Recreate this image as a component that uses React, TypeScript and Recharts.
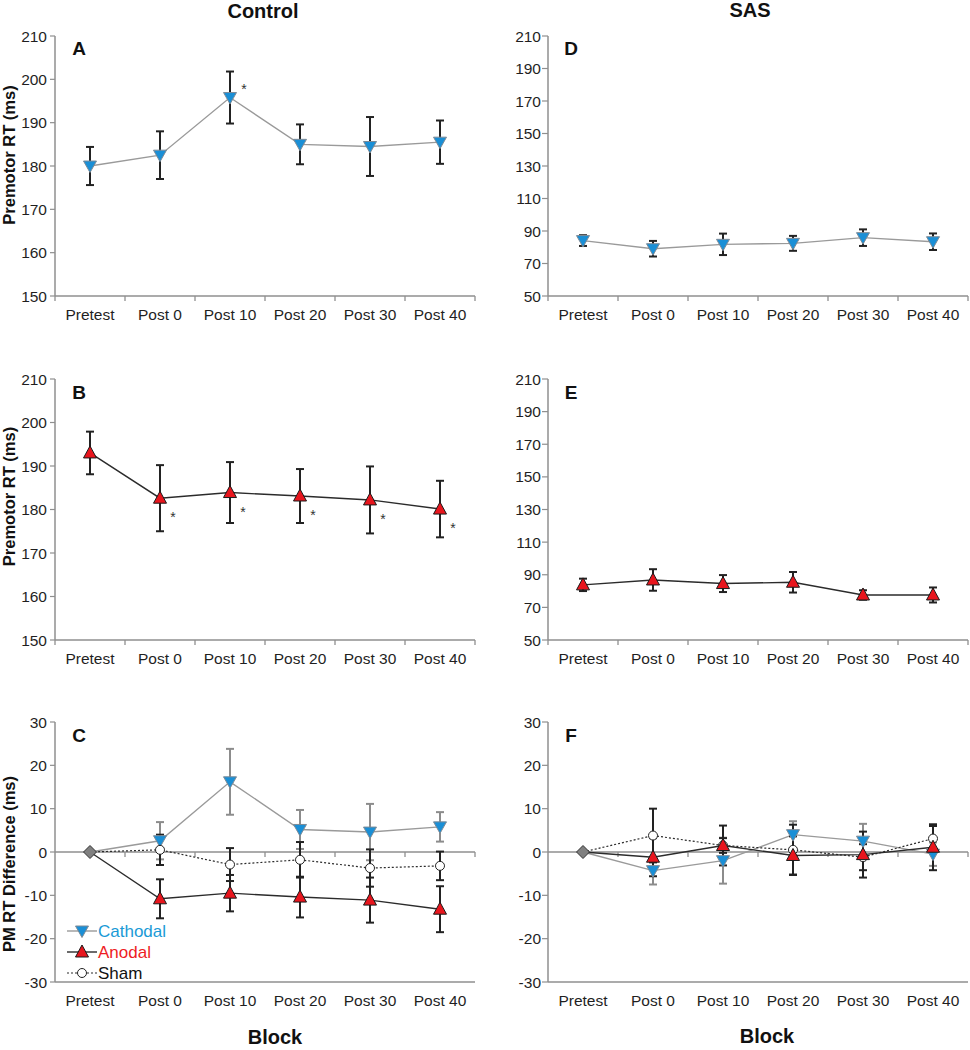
import React from "react";
import {
  LineChart,
  Line,
  XAxis,
  YAxis,
  ErrorBar,
  ReferenceLine,
  LabelList,
  Label,
} from "recharts";

const FONT = "'Liberation Sans', Arial, sans-serif";
const AXIS = "#8f8f8f";
const INK = "#1f1f1f";

const blocks = ["Pretest", "Post 0", "Post 10", "Post 20", "Post 30", "Post 40"];

// Control group, premotor RT (ms)
const ctrlCathodal = [180, 182.5, 195.8, 185, 184.5, 185.5];
const ctrlCathodalSe = [4.4, 5.5, 6, 4.6, 6.8, 5];
const ctrlCathodalSig = [0, 0, 1, 0, 0, 0];
const ctrlAnodal = [193, 182.6, 183.9, 183.1, 182.2, 180.1];
const ctrlAnodalSe = [4.9, 7.6, 7, 6.2, 7.7, 6.5];
const ctrlAnodalSig = [0, 1, 1, 1, 1, 1];

// SAS, premotor RT (ms)
const sasCathodal = [84.1, 79.1, 81.8, 82.4, 85.9, 83.4];
const sasCathodalSe = [3.3, 4.8, 6.6, 4.6, 5.1, 5.1];
const sasAnodal = [83.8, 86.8, 84.6, 85.4, 77.6, 77.6];
const sasAnodalSe = [3.8, 6.6, 5.2, 6.3, 2.9, 4.6];

// difference from pretest, control
const diffCtrlCathodal = [0, 2.6, 16.2, 5.2, 4.6, 5.8];
const diffCtrlCathodalSe = [0, 4.3, 7.6, 4.5, 6.5, 3.4];
const diffCtrlAnodal = [0, -10.8, -9.5, -10.4, -11.1, -13.2];
const diffCtrlAnodalSe = [0, 4.5, 4.2, 4.7, 5.2, 5.3];
const diffCtrlSham = [0, 0.5, -2.9, -1.8, -3.7, -3.2];
const diffCtrlShamSe = [0, 3.5, 3.8, 4.1, 4.3, 3.3];

// difference from pretest, SAS
const diffSasCathodal = [0, -4.3, -2, 4, 2.5, -0.5];
const diffSasCathodalSe = [0, 3.2, 5.3, 3.1, 4, 2.7];
const diffSasAnodal = [0, -1.2, 1.5, -0.8, -0.6, 1.1];
const diffSasAnodalSe = [0, 4.4, 4.6, 4.4, 5.3, 5.3];
const diffSasSham = [0, 3.8, 1.5, 0.5, -1.2, 3.1];
const diffSasShamSe = [0, 6.2, 1.7, 5.8, 3, 2.9];

const baseline = [0, null, null, null, null, null];

const rtTicksCtrl = [150, 160, 170, 180, 190, 200, 210];
const rtTicksSas = [50, 70, 90, 110, 130, 150, 170, 190, 210];
const diffTicks = [-30, -20, -10, 0, 10, 20, 30];

type Kind = "cathodal" | "anodal" | "sham" | "base";

type Series = {
  kind: Kind;
  values: (number | null)[];
  errors?: number[];
  sig?: number[];
  errColor?: string;
};

const lineStyle: Record<Kind, { stroke: string; width: number; dash?: string }> = {
  cathodal: { stroke: "#9a9a9a", width: 1.4 },
  anodal: { stroke: "#2b2b2b", width: 1.4 },
  sham: { stroke: "#2b2b2b", width: 1.2, dash: "2 2" },
  base: { stroke: "none", width: 0 },
};

function marker(kind: Kind) {
  return (p: any) => {
    const { cx, cy, index, value } = p;
    if (cx == null || cy == null || value == null || (kind !== "base" && index === 0 && p.hideFirst)) {
      return <g key={`m-${kind}-${index}`} />;
    }
    if (kind === "cathodal") {
      return (
        <polygon
          key={`m-${kind}-${index}`}
          points={`${cx - 6.5},${cy - 5} ${cx + 6.5},${cy - 5} ${cx},${cy + 6.5}`}
          fill="#1a8fd6"
          stroke="#7d8a96"
          strokeWidth={1}
        />
      );
    }
    if (kind === "anodal") {
      return (
        <polygon
          key={`m-${kind}-${index}`}
          points={`${cx - 6.5},${cy + 5} ${cx + 6.5},${cy + 5} ${cx},${cy - 7}`}
          fill="#e8151d"
          stroke="#1a1a1a"
          strokeWidth={1}
        />
      );
    }
    if (kind === "sham") {
      return (
        <circle key={`m-${kind}-${index}`} cx={cx} cy={cy} r={4.5} fill="#fff" stroke="#222" strokeWidth={1} />
      );
    }
    return (
      <polygon
        key={`m-${kind}-${index}`}
        points={`${cx},${cy - 6.5} ${cx + 6.5},${cy} ${cx},${cy + 6.5} ${cx - 6.5},${cy}`}
        fill="#808080"
        stroke="#333"
        strokeWidth={1}
      />
    );
  };
}

function skipFirst(kind: Kind, skip: boolean) {
  const m = marker(kind);
  return (p: any) => m({ ...p, hideFirst: skip });
}

const blockTick = (marks: boolean) => (p: any) => {
  const { x, y, payload } = p;
  const v = payload.value as number;
  if (Number.isInteger(v)) {
    return marks ? (
      <line x1={x} x2={x} y1={y} y2={y + 5} stroke={AXIS} strokeWidth={1.3} />
    ) : (
      <g />
    );
  }
  return (
    <text x={x} y={y + 13} dy="0.71em" textAnchor="middle" fontSize={15.5} fill={INK} fontFamily={FONT}>
      {blocks[Math.floor(v)]}
    </text>
  );
};

const ZeroLine = (p: any) => {
  const { x1, x2, y1 } = p;
  const step = (x2 - x1) / blocks.length;
  return (
    <g>
      <line x1={x1} x2={x2} y1={y1} y2={y1} stroke={AXIS} strokeWidth={1.5} />
      {blocks.map((_, i) => (
        <line key={i} x1={x1 + step * (i + 1)} x2={x1 + step * (i + 1)} y1={y1} y2={y1 + 5} stroke={AXIS} strokeWidth={1.3} />
      ))}
    </g>
  );
};

type PanelProps = {
  left: number;
  top: number;
  width: number;
  height: number;
  margin: { top: number; right: number; bottom: number; left: number };
  yWidth: number;
  yDomain: [number, number];
  yTicks: number[];
  tickSize: number;
  tickMargin: number;
  yLabel?: string;
  yLabelShift?: number;
  series: Series[];
  diff?: boolean;
  sigDx?: number;
  sigDy?: number;
};

function Panel(props: PanelProps) {
  const { series, diff } = props;
  const data = blocks.map((b, i) => {
    const row: any = { x: i + 0.5, block: b };
    series.forEach((s, k) => {
      row[`v${k}`] = s.values[i];
      if (s.errors) row[`e${k}`] = s.errors[i];
      if (s.sig) row[`s${k}`] = s.sig[i] ? "*" : "";
    });
    return row;
  });
  const xTicks = diff
    ? [0.5, 1.5, 2.5, 3.5, 4.5, 5.5]
    : [0, 0.5, 1, 1.5, 2, 2.5, 3, 3.5, 4, 4.5, 5, 5.5, 6];

  return (
    <div style={{ position: "absolute", left: props.left, top: props.top }}>
      <LineChart width={props.width} height={props.height} data={data} margin={props.margin}>
        <XAxis
          type="number"
          dataKey="x"
          domain={[0, 6]}
          ticks={xTicks}
          interval={0}
          tickSize={0}
          tickMargin={0}
          tickLine={false}
          axisLine={{ stroke: AXIS, strokeWidth: 1.5 }}
          tick={blockTick(!diff)}
          height={30}
        />
        <YAxis
          type="number"
          domain={props.yDomain}
          ticks={props.yTicks}
          interval={0}
          width={props.yWidth}
          tickSize={props.tickSize}
          tickMargin={props.tickMargin}
          axisLine={{ stroke: AXIS, strokeWidth: 1.5 }}
          tickLine={{ stroke: AXIS, strokeWidth: 1.2 }}
          tick={{ fill: INK, fontSize: 15.5, fontFamily: FONT }}
        >
          {props.yLabel && (
            <Label
              content={(lp: any) => {
                const vb = lp.viewBox;
                const cx = vb.x + 9;
                const cy = vb.y + vb.height / 2 + (props.yLabelShift || 0);
                return (
                  <text
                    x={cx}
                    y={cy}
                    transform={`rotate(-90 ${cx} ${cy})`}
                    textAnchor="middle"
                    dominantBaseline="central"
                    fontSize={16.5}
                    fontWeight="bold"
                    fill="#111"
                    fontFamily={FONT}
                  >
                    {props.yLabel}
                  </text>
                );
              }}
            />
          )}
        </YAxis>
        {diff && <ReferenceLine y={0} shape={ZeroLine} />}
        {series.map((s, k) => {
          const st = lineStyle[s.kind];
          return (
            <Line
              key={k}
              type="linear"
              dataKey={`v${k}`}
              stroke={st.stroke}
              strokeWidth={st.width}
              strokeDasharray={st.dash}
              dot={skipFirst(s.kind, !!diff)}
              activeDot={false}
              isAnimationActive={false}
            >
              {s.errors && (
                <ErrorBar
                  dataKey={`e${k}`}
                  direction="y"
                  width={4}
                  stroke={s.errColor || "#222"}
                  strokeWidth={2}
                  isAnimationActive={false}
                />
              )}
              {s.sig && (
                <LabelList
                  dataKey={`s${k}`}
                  content={(lp: any) =>
                    lp.value ? (
                      <text
                        x={lp.x + (props.sigDx || 0)}
                        y={lp.y + (props.sigDy || 0)}
                        textAnchor="middle"
                        dominantBaseline="central"
                        fontSize={14}
                        fill="#333"
                        fontFamily={FONT}
                      >
                        {lp.value}
                      </text>
                    ) : null
                  }
                />
              )}
            </Line>
          );
        })}
      </LineChart>
    </div>
  );
}

const txt = (s: string, x: number, y: number, size: number, extra: React.CSSProperties = {}) => (
  <div
    style={{
      position: "absolute",
      left: x,
      top: y,
      transform: "translate(-50%, -50%)",
      fontFamily: FONT,
      fontSize: size,
      fontWeight: "bold",
      color: "#111",
      whiteSpace: "nowrap",
      lineHeight: 1,
      ...extra,
    }}
  >
    {s}
  </div>
);

function LegendRow({ kind, label, color, y }: { kind: Kind; label: string; color: string; y: number }) {
  const st = lineStyle[kind];
  const m = marker(kind);
  return (
    <div style={{ position: "absolute", left: 66, top: y, height: 20, display: "flex", alignItems: "center" }}>
      <svg width={32} height={20}>
        <line x1={1} x2={31} y1={10} y2={10} stroke={st.stroke} strokeWidth={st.width} strokeDasharray={st.dash} />
        {m({ cx: 16, cy: 10, index: 1, value: 1 })}
      </svg>
      <span style={{ fontFamily: FONT, fontSize: 17, color, marginLeft: 0, lineHeight: 1 }}>{label}</span>
    </div>
  );
}

export default function App() {
  const leftCol = { left: 0, width: 485, yWidth: 55, tickSize: 5, tickMargin: 3, right: 10 };
  const rightCol = { left: 485, width: 485, yWidth: 63, tickSize: 6, tickMargin: 1, right: 2 };
  return (
    <div style={{ position: "absolute", left: 0, top: 0, width: 970, height: 1050, background: "#fff" }}>
      {txt("Control", 263, 11, 20)}
      {txt("SAS", 750, 10, 20)}

      <Panel
        left={leftCol.left}
        top={0}
        width={leftCol.width}
        height={340}
        margin={{ top: 36, right: leftCol.right, bottom: 14, left: 0 }}
        yWidth={leftCol.yWidth}
        yDomain={[150, 210]}
        yTicks={rtTicksCtrl}
        tickSize={leftCol.tickSize}
        tickMargin={leftCol.tickMargin}
        yLabel="Premotor RT (ms)"
        yLabelShift={-11}
        sigDx={14}
        sigDy={-9}
        series={[{ kind: "cathodal", values: ctrlCathodal, errors: ctrlCathodalSe, sig: ctrlCathodalSig }]}
      />
      <Panel
        left={rightCol.left}
        top={0}
        width={rightCol.width}
        height={340}
        margin={{ top: 36, right: rightCol.right, bottom: 14, left: 0 }}
        yWidth={rightCol.yWidth}
        yDomain={[50, 210]}
        yTicks={rtTicksSas}
        tickSize={rightCol.tickSize}
        tickMargin={rightCol.tickMargin}
        series={[{ kind: "cathodal", values: sasCathodal, errors: sasCathodalSe }]}
      />
      <Panel
        left={leftCol.left}
        top={340}
        width={leftCol.width}
        height={340}
        margin={{ top: 39, right: leftCol.right, bottom: 10, left: 0 }}
        yWidth={leftCol.yWidth}
        yDomain={[150, 210]}
        yTicks={rtTicksCtrl}
        tickSize={leftCol.tickSize}
        tickMargin={leftCol.tickMargin}
        yLabel="Premotor RT (ms)"
        yLabelShift={-13}
        sigDx={13}
        sigDy={19}
        series={[{ kind: "anodal", values: ctrlAnodal, errors: ctrlAnodalSe, sig: ctrlAnodalSig }]}
      />
      <Panel
        left={rightCol.left}
        top={340}
        width={rightCol.width}
        height={340}
        margin={{ top: 39, right: rightCol.right, bottom: 10, left: 0 }}
        yWidth={rightCol.yWidth}
        yDomain={[50, 210]}
        yTicks={rtTicksSas}
        tickSize={rightCol.tickSize}
        tickMargin={rightCol.tickMargin}
        series={[{ kind: "anodal", values: sasAnodal, errors: sasAnodalSe }]}
      />
      <Panel
        left={leftCol.left}
        top={680}
        width={leftCol.width}
        height={370}
        margin={{ top: 42, right: leftCol.right, bottom: 38, left: 0 }}
        yWidth={leftCol.yWidth}
        yDomain={[-30, 30]}
        yTicks={diffTicks}
        tickSize={leftCol.tickSize}
        tickMargin={leftCol.tickMargin}
        yLabel="PM RT Difference (ms)"
        yLabelShift={12}
        diff
        series={[
          { kind: "cathodal", values: diffCtrlCathodal, errors: diffCtrlCathodalSe, errColor: "#8c8c8c" },
          { kind: "sham", values: diffCtrlSham, errors: diffCtrlShamSe },
          { kind: "anodal", values: diffCtrlAnodal, errors: diffCtrlAnodalSe },
          { kind: "base", values: baseline },
        ]}
      />
      <Panel
        left={rightCol.left}
        top={680}
        width={rightCol.width}
        height={370}
        margin={{ top: 42, right: rightCol.right, bottom: 38, left: 0 }}
        yWidth={rightCol.yWidth}
        yDomain={[-30, 30]}
        yTicks={diffTicks}
        tickSize={rightCol.tickSize}
        tickMargin={rightCol.tickMargin}
        diff
        series={[
          { kind: "cathodal", values: diffSasCathodal, errors: diffSasCathodalSe, errColor: "#8c8c8c" },
          { kind: "sham", values: diffSasSham, errors: diffSasShamSe },
          { kind: "anodal", values: diffSasAnodal, errors: diffSasAnodalSe },
          { kind: "base", values: baseline },
        ]}
      />

      {txt("A", 79, 48, 19)}
      {txt("B", 79, 392, 19)}
      {txt("C", 79, 735, 19)}
      {txt("D", 571, 48, 19)}
      {txt("E", 571, 392, 19)}
      {txt("F", 571, 735, 19)}

      <LegendRow kind="cathodal" label="Cathodal" color="#1a9ad6" y={921} />
      <LegendRow kind="anodal" label="Anodal" color="#ee1c24" y={942} />
      <LegendRow kind="sham" label="Sham" color="#111" y={963} />

      {txt("Block", 275, 1037, 20)}
      {txt("Block", 767, 1036, 20)}
    </div>
  );
}
